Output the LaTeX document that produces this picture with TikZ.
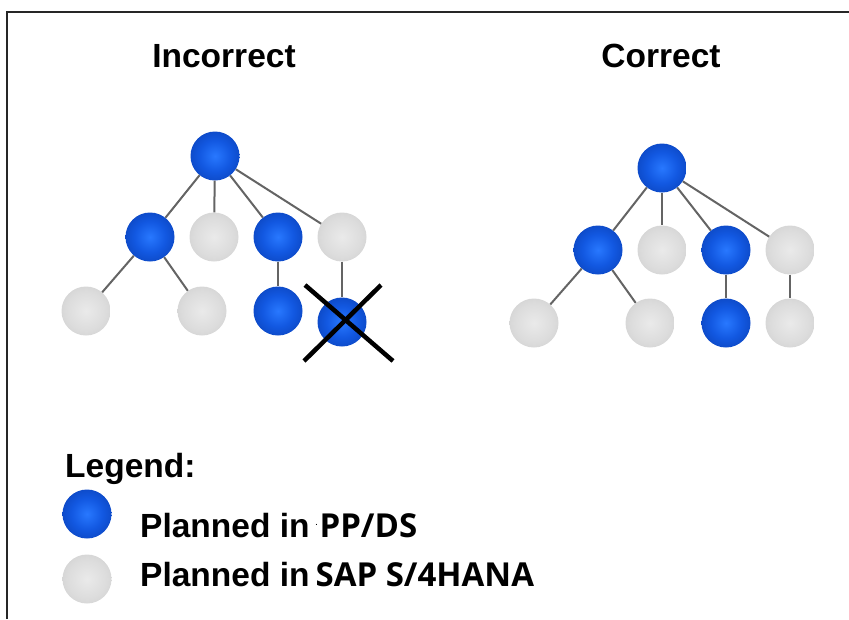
\documentclass[tikz,border=0pt]{standalone}
\usepackage{fontspec}
\setmainfont{Liberation Sans}
\newfontfamily\labelfont{Open Sans}

% ball colours
\definecolor{bhi}{RGB}{40,120,255}
\definecolor{bmid}{RGB}{18,88,225}
\definecolor{blo}{RGB}{8,58,170}
\definecolor{bedge}{RGB}{6,40,125}
\definecolor{ghi}{RGB}{234,234,234}
\definecolor{gmid}{RGB}{220,220,220}
\definecolor{glo}{RGB}{196,196,196}
\definecolor{linkgray}{RGB}{100,100,100}

\pgfdeclareradialshading{blueball}{\pgfpointorigin}{%
  color(0bp)=(bhi); color(16bp)=(bmid); color(38bp)=(blo);
  color(46bp)=(bedge); color(50bp)=(bedge)}
\pgfdeclareradialshading{grayball}{\pgfpointorigin}{%
  color(0bp)=(ghi); color(20bp)=(gmid); color(44bp)=(glo);
  color(50bp)=(glo)}

\tikzset{
  bluenode/.style={circle, minimum size=49pt, inner sep=0pt, shading=blueball},
  graynode/.style={circle, minimum size=49pt, inner sep=0pt, shading=grayball},
  link/.style={draw=linkgray, line width=2pt},
  strike/.style={draw=black, line width=4.5pt},
  heading/.style={anchor=base, inner sep=0pt, font=\bfseries\fontsize{33.5}{38}\selectfont},
  legtext/.style={anchor=base west, inner sep=0pt, font=\bfseries\fontsize{33.5}{38}\selectfont},
  frame/.style={draw=black!85, line width=2pt}
}

\begin{document}
\begin{tikzpicture}[x=1pt, y=-1pt]
\useasboundingbox (0,0) rectangle (849,619);

% outer frame (top and left edges)
\draw[frame] (7,619) -- (7,12) -- (849,12);

% headings
\node[heading] (tIncorrect) at (224,67) {Incorrect};
\node[heading] (tCorrect) at (661,67) {Correct};

% ---- incorrect structure ----
\node[bluenode] (ir) at (215,156) {};
\node[bluenode] (ia) at (150,237) {};
\node[graynode] (ib) at (214,237) {};
\node[bluenode] (ic) at (278,237) {};
\node[graynode] (id) at (342,237) {};
\node[graynode] (ie) at (86,311) {};
\node[graynode] (if) at (202,311) {};
\node[bluenode] (ig) at (278,311) {};
\node[bluenode] (ih) at (342,322) {};

\draw[link] (ir) -- (ia);
\draw[link] (ir) -- (ib);
\draw[link] (ir) -- (ic);
\draw[link] (ir) -- (id);
\draw[link] (ia) -- (ie);
\draw[link] (ia) -- (if);
\draw[link] (ic) -- (ig);
\draw[link] (id) -- (ih);

% cross over the misplaced component
\coordinate (xa) at (305,285);
\coordinate (xb) at (393,361);
\coordinate (xc) at (381,285);
\coordinate (xd) at (304,361);
\draw[strike] (xa) -- (xb);
\draw[strike] (xc) -- (xd);

% ---- correct structure ----
\node[bluenode] (cr) at (662,168) {};
\node[bluenode] (ca) at (598,250) {};
\node[graynode] (cb) at (662,250) {};
\node[bluenode] (cc) at (726,250) {};
\node[graynode] (cd) at (790,250) {};
\node[graynode] (ce) at (534,323) {};
\node[graynode] (cf) at (650,323) {};
\node[bluenode] (cg) at (726,323) {};
\node[graynode] (ch) at (790,323) {};

\draw[link] (cr) -- (ca);
\draw[link] (cr) -- (cb);
\draw[link] (cr) -- (cc);
\draw[link] (cr) -- (cd);
\draw[link] (ca) -- (ce);
\draw[link] (ca) -- (cf);
\draw[link] (cc) -- (cg);
\draw[link] (cd) -- (ch);

% ---- legend ----
\node[legtext] (leg) at (65,477) {Legend:};
\node[bluenode] (lb) at (87,514) {};
\node[graynode] (lg) at (87,579) {};
\node[legtext] (lbt) at (140,537) {Planned in\hspace{6pt}\raisebox{12pt}{\fontsize{7}{7}\selectfont.}\hspace{2pt}{\labelfont\fontsize{33}{38}\selectfont PP/DS}};
\node[legtext] (lgt) at (140,586) {Planned in\hspace{6pt}{\labelfont\fontsize{33}{38}\selectfont SAP S/4HANA}};
\end{tikzpicture}
\end{document}
